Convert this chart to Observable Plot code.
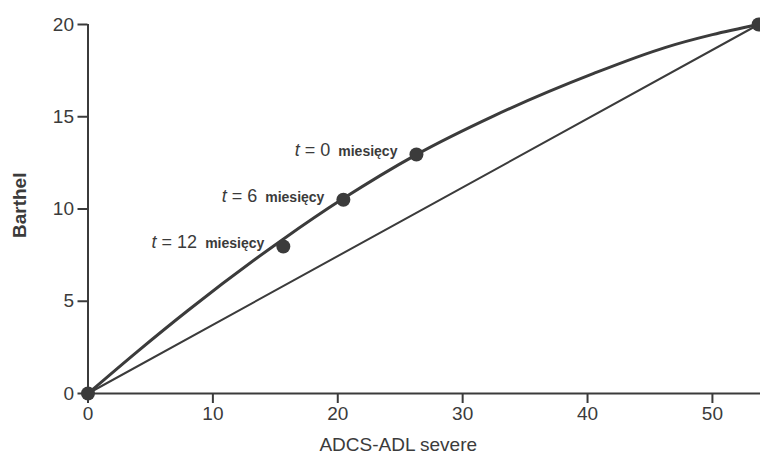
<!DOCTYPE html>
<html>
<head>
<meta charset="utf-8">
<script src="https://cdn.jsdelivr.net/npm/d3@7"></script>
<script src="https://cdn.jsdelivr.net/npm/@observablehq/plot@0.6"></script>
<style>
  html, body { margin: 0; padding: 0; background: #fff; }
</style>
</head>
<body>
<div id="chart"></div>
<script>
// Curve
const curveX = [0, 4, 8, 15.6, 20.4, 26.3, 32.5, 40.5, 46.2, 50, 53.7];
const curveY = [0, 2.3, 4.5, 8.35, 10.55, 12.95, 15.05, 17.35, 18.75, 19.45, 20];
// Straight reference line
const lineX = [0, 53.7];
const lineY = [0, 20];
// Labelled observations
const months = [0, 6, 12];
const pointX = [26.3, 20.45, 15.64];
const pointY = [12.95, 10.5, 7.97];
// End points
const endX = [0, 53.7];
const endY = [0, 20];
// Ticks
const xTicks = [0, 10, 20, 30, 40, 50];
const yTicks = [0, 5, 10, 15, 20];
const xLabel = "ADCS-ADL severe";
const yLabel = "Barthel";

const ink = "#3b3b3b";
const curve = curveX.map((x, i) => ({x, y: curveY[i]}));
const straight = lineX.map((x, i) => ({x, y: lineY[i]}));
const pts = months.map((m, i) => ({m, x: pointX[i], y: pointY[i]}));
const ends = endX.map((x, i) => ({x, y: endY[i]}));

const chart = Plot.plot({
  width: 760,
  height: 459,
  marginLeft: 87.5,
  marginRight: 0,
  marginTop: 24,
  marginBottom: 66,
  style: {fontFamily: "'Liberation Sans', Arial, sans-serif", fontSize: "19px", color: ink, background: "#fff"},
  x: {domain: [0, 53.85]},
  y: {domain: [0, 20]},
  marks: [
    Plot.line(straight, {x: "x", y: "y", stroke: ink, strokeWidth: 2}),
    Plot.line(curve, {x: "x", y: "y", stroke: ink, strokeWidth: 3, curve: "monotone-x"}),
    Plot.ruleX([0], {stroke: ink, strokeWidth: 2}),
    Plot.ruleY([0], {stroke: ink, strokeWidth: 2}),
    Plot.axisX({ticks: xTicks, tickSize: 10, tickPadding: 3, strokeWidth: 2, label: null, fontSize: 19}),
    Plot.axisY({ticks: yTicks, tickSize: 10, tickPadding: 4, strokeWidth: 2, label: null, fontSize: 19}),
    Plot.dot(pts, {x: "x", y: "y", r: 7, fill: ink}),
    Plot.dot(ends, {x: "x", y: "y", r: 7, fill: ink}),
    Plot.text(pts, {x: "x", y: "y", text: d => `t = ${d.m} miesięcy`, textAnchor: "end", dx: -19, dy: -4, fontSize: 18, fill: ink}),
    Plot.text([yLabel], {frameAnchor: "left", dx: -68.5, dy: 29, rotate: -90, fontSize: 19, fontWeight: "bold", fill: ink}),
    Plot.text([xLabel], {frameAnchor: "bottom", dx: -26, dy: 57, fontSize: 19, fill: ink})
  ]
});

// rich formatting: italic "t", smaller bold "miesięcy"
d3.select(chart).selectAll('text').each(function() {
  const s = this.textContent;
  const m = s.match(/^t = (\d+) (miesięcy)$/);
  if (!m) return;
  const el = d3.select(this).text(null);
  el.append("tspan").attr("font-style", "italic").text("t");
  el.append("tspan").text(" = " + m[1] + " ");
  el.append("tspan").attr("font-size", 14).attr("font-weight", "bold").attr("dx", 3).text(m[2]);
});

document.getElementById("chart").appendChild(chart);
</script>
</body>
</html>
